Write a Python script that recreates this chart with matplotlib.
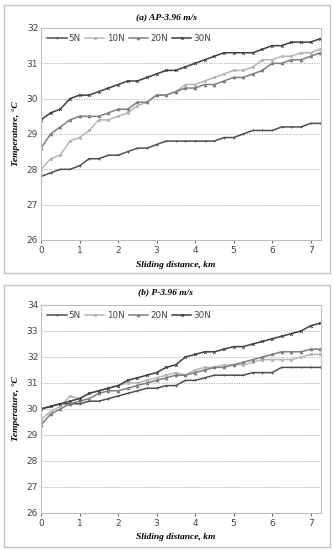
import matplotlib
matplotlib.use("Agg")
import matplotlib.pyplot as plt
from matplotlib.patches import Rectangle

distance_km = [0, 0.25, 0.5, 0.75, 1.0, 1.25, 1.5, 1.75, 2.0, 2.25, 2.5, 2.75, 3.0, 3.25, 3.5,
               3.75, 4.0, 4.25, 4.5, 4.75, 5.0, 5.25, 5.5, 5.75, 6.0, 6.25, 6.5, 6.75, 7.0, 7.25]

series_labels = ["5N", "10N", "20N", "30N"]

a_5N = [27.8, 27.9, 28.0, 28.0, 28.1, 28.3, 28.3, 28.4, 28.4, 28.5, 28.6, 28.6, 28.7, 28.8, 28.8,
        28.8, 28.8, 28.8, 28.8, 28.9, 28.9, 29.0, 29.1, 29.1, 29.1, 29.2, 29.2, 29.2, 29.3, 29.3]
a_10N = [28.0, 28.3, 28.4, 28.8, 28.9, 29.1, 29.4, 29.4, 29.5, 29.6, 29.8, 29.9, 30.1, 30.1, 30.2,
         30.4, 30.4, 30.5, 30.6, 30.7, 30.8, 30.8, 30.9, 31.1, 31.1, 31.2, 31.2, 31.3, 31.3, 31.4]
a_20N = [28.6, 29.0, 29.2, 29.4, 29.5, 29.5, 29.5, 29.6, 29.7, 29.7, 29.9, 29.9, 30.1, 30.1, 30.2,
         30.3, 30.3, 30.4, 30.4, 30.5, 30.6, 30.6, 30.7, 30.8, 31.0, 31.0, 31.1, 31.1, 31.2, 31.3]
a_30N = [29.4, 29.6, 29.7, 30.0, 30.1, 30.1, 30.2, 30.3, 30.4, 30.5, 30.5, 30.6, 30.7, 30.8, 30.8,
         30.9, 31.0, 31.1, 31.2, 31.3, 31.3, 31.3, 31.3, 31.4, 31.5, 31.5, 31.6, 31.6, 31.6, 31.7]

b_5N = [30.0, 30.1, 30.2, 30.2, 30.2, 30.3, 30.3, 30.4, 30.5, 30.6, 30.7, 30.8, 30.8, 30.9, 30.9,
        31.1, 31.1, 31.2, 31.3, 31.3, 31.3, 31.3, 31.4, 31.4, 31.4, 31.6, 31.6, 31.6, 31.6, 31.6]
b_10N = [29.6, 29.9, 30.1, 30.5, 30.4, 30.6, 30.7, 30.8, 30.9, 31.0, 31.0, 31.1, 31.2, 31.3, 31.4,
         31.3, 31.5, 31.6, 31.6, 31.7, 31.7, 31.7, 31.8, 31.9, 31.9, 31.9, 31.9, 32.0, 32.1, 32.1]
b_20N = [29.4, 29.8, 30.0, 30.2, 30.3, 30.4, 30.6, 30.7, 30.7, 30.8, 30.9, 31.0, 31.1, 31.2, 31.3,
         31.3, 31.4, 31.5, 31.6, 31.6, 31.7, 31.8, 31.9, 32.0, 32.1, 32.2, 32.2, 32.2, 32.3, 32.3]
b_30N = [30.0, 30.1, 30.2, 30.3, 30.4, 30.6, 30.7, 30.8, 30.9, 31.1, 31.2, 31.3, 31.4, 31.6, 31.7,
         32.0, 32.1, 32.2, 32.2, 32.3, 32.4, 32.4, 32.5, 32.6, 32.7, 32.8, 32.9, 33.0, 33.2, 33.3]

panel_a = [a_5N, a_10N, a_20N, a_30N]
panel_b = [b_5N, b_10N, b_20N, b_30N]

titles = ["(a) AP-3.96 m/s", "(b) P-3.96 m/s"]
x_ticks = [0, 1, 2, 3, 4, 5, 6, 7]
a_yticks = [26, 27, 28, 29, 30, 31, 32]
b_yticks = [26, 27, 28, 29, 30, 31, 32, 33, 34]

colors = ["#4f4f4f", "#b6b6b6", "#7e7e7e", "#3f3f3f"]
markers = ["+", "s", "^", "x"]

W, H = 333, 550
fig = plt.figure(figsize=(W / 100, H / 100), dpi=100)

serif = ["Liberation Serif", "DejaVu Serif"]

def frac_x(px):
    return px / W

def frac_y(py):
    return 1 - py / H

# panel frames
for (y0, y1) in [(5, 273), (285, 547)]:
    fig.patches.append(Rectangle((frac_x(4), frac_y(y1)), frac_x(326), (y1 - y0) / H,
                                 transform=fig.transFigure, fill=False,
                                 edgecolor="#c4c4c4", linewidth=1.0))

def make_panel(rect_px, data, yticks, title, title_y, xlabel_y, legend_y):
    left, top, right, bottom = rect_px
    ax = fig.add_axes([frac_x(left), frac_y(bottom), (right - left) / W, (bottom - top) / H])
    for vals, lab, c, m in zip(data, series_labels, colors, markers):
        ax.plot(distance_km, vals, color=c, lw=1.1, marker=m, markersize=2.0,
                markeredgewidth=0.6, label=lab)
    ax.set_xlim(0, 7.27)
    ax.set_ylim(yticks[0], yticks[-1])
    ax.set_xticks(x_ticks)
    ax.set_yticks(yticks)
    ax.tick_params(labelsize=6.5, colors="#444444", length=2.5, width=0.6, pad=2)
    ax.tick_params(axis="y", length=0)
    for sp in ax.spines.values():
        sp.set_color("#bdbdbd")
        sp.set_linewidth(0.8)
    ax.grid(axis="y", linestyle=(0, (1.5, 1.5)), color="#a8a8a8", linewidth=0.6)
    ax.set_axisbelow(True)
    fig.text(frac_x(166), frac_y(title_y), title, ha="center", va="center",
             family=serif, fontsize=6.8, fontweight="bold", fontstyle="italic")
    fig.text(frac_x(176), frac_y(xlabel_y), "Sliding distance, km", ha="center", va="center",
             family=serif, fontsize=6.8, fontweight="bold", fontstyle="italic")
    fig.text(frac_x(16), frac_y((top + bottom) / 2), "Temperature, °C", ha="center", va="center",
             rotation=90, family=serif, fontsize=6.8, fontweight="bold", fontstyle="italic")
    leg = ax.legend(loc="center left",
                    bbox_to_anchor=(0.01, (bottom - legend_y) / (bottom - top)),
                    ncol=4, frameon=False, fontsize=6.3, handlelength=2.2, handletextpad=0.25,
                    columnspacing=0.5, borderaxespad=0.0)
    for t in leg.get_texts():
        t.set_color("#444444")
    return ax

make_panel((41, 28, 321, 240), panel_a, a_yticks, titles[0], 17, 265, 39)
make_panel((41, 305, 321, 513), panel_b, b_yticks, titles[1], 292, 537, 316)

fig.savefig("out.png", dpi=100)
